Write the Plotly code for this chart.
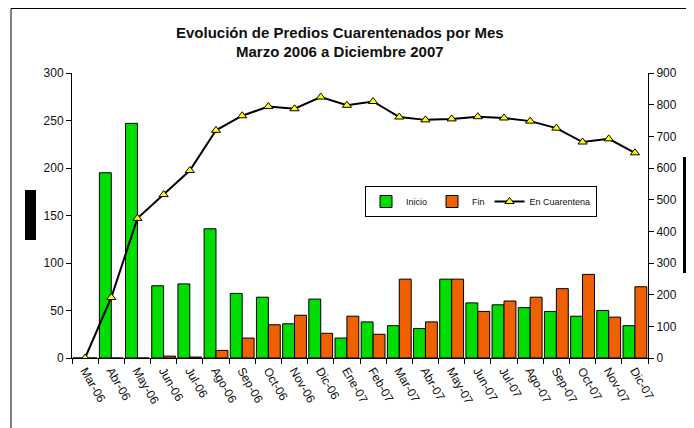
import plotly.graph_objects as go

meses = ["Mar-06", "Abr-06", "May-06", "Jun-06", "Jul-06", "Ago-06", "Sep-06", "Oct-06",
         "Nov-06", "Dic-06", "Ene-07", "Feb-07", "Mar-07", "Abr-07", "May-07", "Jun-07",
         "Jul-07", "Ago-07", "Sep-07", "Oct-07", "Nov-07", "Dic-07"]
inicio = [0, 195, 247, 76, 78, 136, 68, 64, 36, 62, 21, 38, 34, 31, 83, 58, 56, 53, 49, 44, 50, 34]
fin = [0, 0, 0, 2, 1, 8, 21, 35, 45, 26, 44, 25, 83, 38, 83, 49, 60, 64, 73, 88, 43, 75]
en_cuarentena = [0, 191, 441, 516, 592, 719, 765, 794, 787, 824, 798, 810, 761, 752, 755, 762,
                 758, 748, 726, 682, 692, 648]

W, H = 694, 428
OFF = 8  # page body offset
L, R, T, B = 72 - OFF, 648 - OFF, 73 - OFF, 358 - OFF

fig = go.Figure()
fig.add_trace(go.Bar(x=meses, y=inicio, name="Inicio", marker=dict(color="#00DD00", line=dict(color="black", width=1)), yaxis="y"))
fig.add_trace(go.Bar(x=meses, y=fin, name="Fin", marker=dict(color="#EE6000", line=dict(color="black", width=1)), yaxis="y"))
fig.add_trace(go.Scatter(x=meses, y=en_cuarentena, name="En Cuarentena", mode="lines+markers", yaxis="y2",
                         line=dict(color="black", width=2),
                         marker=dict(symbol="triangle-up", size=8, color="#FFFF00", line=dict(color="black", width=1))))

def px_x(p):
    return (p - OFF - L) / (R - L)

def px_y(p):
    return (B - (p - OFF)) / (B - T)

FAM = "Liberation Sans, Arial, sans-serif"
font = dict(family=FAM, size=12, color="#111")

fig.update_layout(
    width=W, height=H,
    margin=dict(l=L, r=W - R, t=T, b=H - B, autoexpand=False),
    paper_bgcolor="white", plot_bgcolor="white",
    barmode="group", bargap=0.09, bargroupgap=0,
    font=font,
    showlegend=True,
    legend=dict(orientation="h", x=px_x(365), y=px_y(186), xanchor="left", yanchor="top",
                bordercolor="black", borderwidth=1, bgcolor="white",
                font=dict(family=FAM, size=9, color="#111"),
                itemwidth=30, tracegroupgap=0),
    xaxis=dict(type="category", range=[-0.5, len(meses) - 0.5], showline=True, linecolor="black",
               linewidth=1, automargin=False,
               ticks="outside", ticklen=5, tickcolor="black", tickson="boundaries",
               tickangle=60, showgrid=False, tickfont=font),
    yaxis=dict(range=[0, 300], dtick=50, showline=True, linecolor="black", linewidth=1, automargin=False,
               ticks="outside", ticklen=5, tickcolor="black", showgrid=False, zeroline=False,
               tickfont=font),
    yaxis2=dict(range=[0, 900], dtick=100, overlaying="y", side="right", showline=True, automargin=False,
                linecolor="black", linewidth=1, ticks="outside", ticklen=5, tickcolor="black",
                showgrid=False, zeroline=False, tickfont=font),
    shapes=[
        dict(type="rect", xref="paper", yref="paper", x0=px_x(11), x1=px_x(720), y0=px_y(8.5), y1=px_y(460),
             line=dict(color="black", width=1), fillcolor="rgba(0,0,0,0)", layer="below"),
        dict(type="rect", xref="paper", yref="paper", x0=px_x(25), x1=px_x(36), y0=px_y(240), y1=px_y(190),
             line=dict(width=0), fillcolor="black"),
        dict(type="rect", xref="paper", yref="paper", x0=px_x(683), x1=px_x(700), y0=px_y(273), y1=px_y(157),
             line=dict(width=0), fillcolor="black"),
    ],
    annotations=[
        dict(text="<b>Evolución de Predios Cuarentenados por Mes</b>", xref="paper", yref="paper",
             x=px_x(340), y=px_y(32), xanchor="center", yanchor="middle", showarrow=False,
             font=dict(family=FAM, size=15, color="#111")),
        dict(text="<b>Marzo 2006 a Diciembre 2007</b>", xref="paper", yref="paper",
             x=px_x(340), y=px_y(51), xanchor="center", yanchor="middle", showarrow=False,
             font=dict(family=FAM, size=15, color="#111")),
    ],
)

fig.write_html("out.html")
